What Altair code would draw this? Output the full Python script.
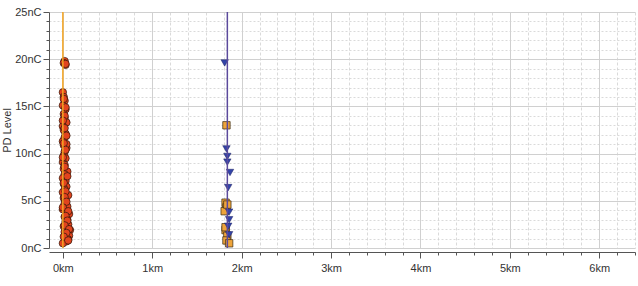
import altair as alt
import pandas as pd

# Group A: discharges near 0 km (red circles)
a_km = [0.00, 0.01, 0.02, 0.00, 0.03, 0.01, 0.02, 0.04, 0.00, 0.01,
        0.03, 0.02, 0.00, 0.01, 0.04, 0.02, 0.01, 0.03, 0.00, 0.02,
        0.01, 0.05, 0.02, 0.00, 0.03, 0.01, 0.04, 0.02, 0.00, 0.06,
        0.01, 0.03, 0.02, 0.05, 0.00, 0.04, 0.07, 0.02, 0.05, 0.03,
        0.06, 0.01, 0.04, 0.08, 0.02, 0.05, 0.07, 0.03, 0.06, 0.04,
        0.00, 0.02, 0.01, 0.03, 0.02, 0.04,
        0.01, 0.03, 0.00, 0.02, 0.04, 0.01, 0.03, 0.00, 0.02, 0.05,
        0.01, 0.03, 0.02, 0.04, 0.00, 0.06, 0.03, 0.05, 0.02, 0.07,
        0.04, 0.01, 0.06, 0.03]
a_nc = [16.5, 16.0, 15.6, 15.1, 14.7, 14.2, 13.8, 13.3, 12.9, 12.5,
        12.1, 11.7, 11.3, 10.9, 10.6, 10.2, 9.8, 9.5, 9.1, 8.8,
        8.4, 8.1, 7.8, 7.4, 7.1, 6.8, 6.5, 6.2, 5.9, 5.6,
        5.3, 5.0, 4.7, 4.4, 4.1, 3.8, 3.6, 3.3, 3.0, 2.8,
        2.5, 2.3, 2.1, 1.9, 1.7, 1.5, 1.3, 1.1, 0.9, 0.7,
        0.5, 19.8, 19.6, 19.4, 14.0, 11.0,
        15.8, 14.9, 13.5, 12.7, 11.9, 11.1, 10.4, 9.6, 8.6, 7.6,
        6.9, 6.0, 5.4, 4.9, 4.3, 3.9, 3.4, 2.9, 2.4, 2.0,
        1.6, 1.2, 0.8, 19.5]

# Group B: discharges near 1.84 km
b_sq_km = [1.83, 1.82, 1.83, 1.81, 1.82, 1.84, 1.83, 1.86, 1.84, 1.82]
b_sq_nc = [13.0, 4.8, 4.3, 3.9, 1.9, 1.3, 0.8, 0.5, 4.6, 2.2]
b_tri_km = [1.81, 1.83, 1.84, 1.84, 1.87, 1.85, 1.86, 1.86, 1.85, 1.86]
b_tri_nc = [19.6, 10.5, 9.7, 9.1, 8.0, 6.4, 3.8, 3.0, 2.3, 1.4]

# cable joint / sensor positions
line_km = [0.0, 1.84]
line_name = ["Start", "Joint 1"]
line_color = ["#f5a623", "#5b4a9c"]

x_ticks = [round(i * 0.2, 1) for i in range(0, 33)]
y_ticks = list(range(0, 26))

df_a = pd.DataFrame({"km": a_km, "nc": a_nc})
df_sq = pd.DataFrame({"km": b_sq_km, "nc": b_sq_nc})
df_tri = pd.DataFrame({"km": b_tri_km, "nc": b_tri_nc})
df_lines = pd.DataFrame({"km": line_km, "name": line_name, "color": line_color})

major_x = "abs(datum.value - round(datum.value)) < 0.001"
major_y = "datum.value % 5 === 0"

x_scale = alt.Scale(domain=[-0.155, 6.4], nice=False, zero=False)
y_scale = alt.Scale(domain=[0, 25], nice=False)

x_axis = alt.Axis(
    values=x_ticks, tickCount=200, labelOverlap=False, title=None, offset=4,
    labelExpr=f"{major_x} ? datum.value + 'km' : ''",
    grid=True,
    gridColor="#d0d0d0",
    gridDash={"condition": {"test": major_x, "value": []}, "value": [3, 2]},
    gridWidth={"condition": {"test": major_x, "value": 1}, "value": 0.8},
    tickSize={"condition": {"test": major_x, "value": 6}, "value": 3},
    tickColor="#555", domainColor="#555",
    labelColor="#333", labelFontSize=11, labelPadding=4,
    labelFont="Liberation Sans",
)
y_axis = alt.Axis(
    values=y_ticks, tickCount=200, labelOverlap=False, title="PD Level",
    labelExpr=f"{major_y} ? datum.value + 'nC' : ''",
    grid=True,
    gridColor="#d0d0d0",
    gridDash={"condition": {"test": major_y, "value": []}, "value": [2, 2]},
    gridWidth={"condition": {"test": major_y, "value": 1}, "value": 0.8},
    tickSize={"condition": {"test": major_y, "value": 6}, "value": 3},
    tickColor="#555", domainColor="#555",
    labelColor="#333", labelFontSize=11, labelPadding=2,
    labelFont="Liberation Sans",
    titleFont="Liberation Sans", titleFontWeight="normal", titleFontSize=11,
    titleColor="#333", titlePadding=2,
)

base_x = alt.X("km:Q", scale=x_scale, axis=x_axis)
base_y = alt.Y("nc:Q", scale=y_scale, axis=y_axis)

circles = alt.Chart(df_a).mark_point(
    shape="circle", filled=True, size=55, fill="#e2441e", stroke="#2b160c",
    strokeWidth=0.7, opacity=1
).encode(x=base_x, y=base_y)

squares = alt.Chart(df_sq).mark_point(
    shape="square", filled=True, size=55, fill="#eea43a", stroke="#3a2a10",
    strokeWidth=0.7, opacity=1
).encode(x="km:Q", y="nc:Q")

tris = alt.Chart(df_tri).mark_point(
    shape="triangle-down", filled=True, size=55, fill="#3344a8", stroke="#1c2060",
    strokeWidth=0.5, opacity=1
).encode(x="km:Q", y="nc:Q")

rules = alt.Chart(df_lines).mark_rule(strokeWidth=1.5).encode(
    x="km:Q",
    color=alt.Color("color:N", scale=None, legend=None),
)

chart = alt.layer(circles, squares, tris, rules).properties(
    width=586, height=236,
    autosize=alt.AutoSizeParams(type="none"),
    padding={"left": 49, "top": 12, "right": 3, "bottom": 38},
).configure_view(stroke=None)

chart.save("out.html", embed_options={"renderer": "svg", "actions": False})
